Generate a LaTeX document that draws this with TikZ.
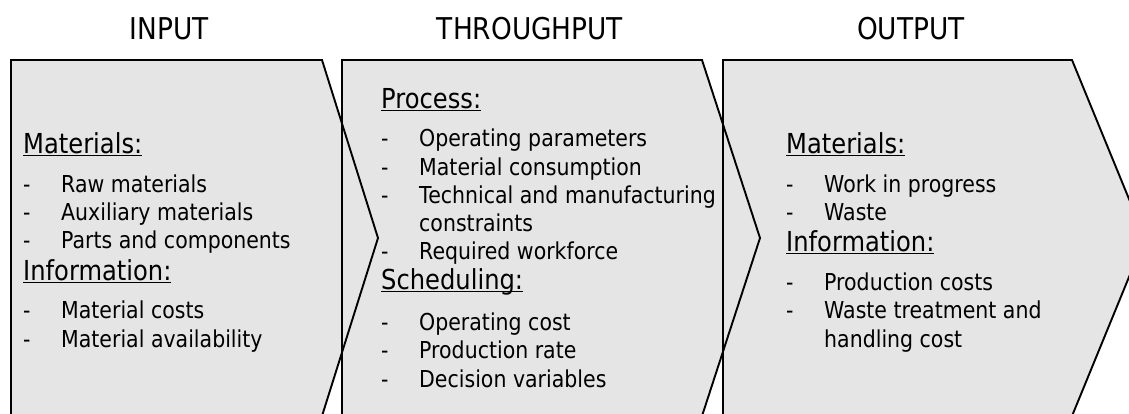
\documentclass[tikz,border=0pt]{standalone}
\usepackage{fontspec}
\setmainfont{DejaVu Sans}[FakeStretch=0.88]
\usetikzlibrary{positioning}

\newcommand\hdul[1]{\setbox0=\hbox{#1}\rlap{\rule[-3pt]{\wd0}{1.3pt}}\box0}

\tikzset{
  stage/.style={fill=black!10},
  stageline/.style={line width=1.9pt, line join=miter},
  title/.style={font=\fontsize{30}{34}\selectfont, anchor=base, inner sep=0},
  head/.style={font=\fontsize{27.5}{33}\selectfont, anchor=base west, inner sep=0},
  item/.style={font=\fontsize{23.3}{28}\selectfont, anchor=base west, inner sep=0,
    execute at begin node={\makebox[38pt][l]{-}}},
  cont/.style={font=\fontsize{23.3}{28}\selectfont, anchor=base west, inner sep=0}
}

\begin{document}
\begin{tikzpicture}[x=1pt,y=-1pt]
\useasboundingbox (0,0) rectangle (1129,413);
\clip (0,0) rectangle (1129,413);
% stages
\fill[stage] (11,60)--(322,60)--(378,238)--(322,416)--(11,416)--cycle;
\fill[stage] (342,60)--(702,60)--(760,238)--(702,416)--(342,416)--cycle;
\fill[stage] (723,60)--(1072,60)--(1145,238)--(1072,416)--(723,416)--cycle;
\draw[stageline] (11,60)--(322,60)--(378,238)--(322,416)--(11,416)--cycle;
\draw[stageline] (342,60)--(702,60)--(760,238)--(702,416)--(342,416)--cycle;
\draw[stageline] (723,60)--(1072,60)--(1145,238)--(1072,416)--(723,416)--cycle;
% titles
\node[title] (tIn) at (169,39) {INPUT};
\node[title] (tThru) at (530,39) {THROUGHPUT};
\node[title] (tOut) at (911,39) {OUTPUT};
% input
\node[head] (inMat) at (23,153) {\hdul{Materials:}};
\node[item] (inRaw) at (23,192) {Raw materials};
\node[item] (inAux) at (23,220) {Auxiliary materials};
\node[item] (inParts) at (23,248) {Parts and components};
\node[head] (inInfo) at (23,280) {\hdul{Information:}};
\node[item] (inCost) at (23,318) {Material costs};
\node[item] (inAvail) at (23,347) {Material availability};
% throughput
\node[head] (thProc) at (381,108) {\hdul{Process:}};
\node[item] (thPar) at (381,146) {Operating parameters};
\node[item] (thCons) at (381,175) {Material consumption};
\node[item] (thTech) at (381,203) {Technical and manufacturing};
\node[cont] (thTech2) at (419,231) {constraints};
\node[item] (thWork) at (381,259) {Required workforce};
\node[head] (thSched) at (381,289) {\hdul{Scheduling:}};
\node[item] (thCost) at (381,330) {Operating cost};
\node[item] (thRate) at (381,358) {Production rate};
\node[item] (thVar) at (381,387) {Decision variables};
% output
\node[head] (outMat) at (786,153) {\hdul{Materials:}};
\node[item] (outWip) at (786,192) {Work in progress};
\node[item] (outWaste) at (786,220) {Waste};
\node[head] (outInfo) at (786,251) {\hdul{Information:}};
\node[item] (outCost) at (786,290) {Production costs};
\node[item] (outTreat) at (786,318) {Waste treatment and};
\node[cont] (outTreat2) at (824,347) {handling cost};
\end{tikzpicture}
\end{document}
